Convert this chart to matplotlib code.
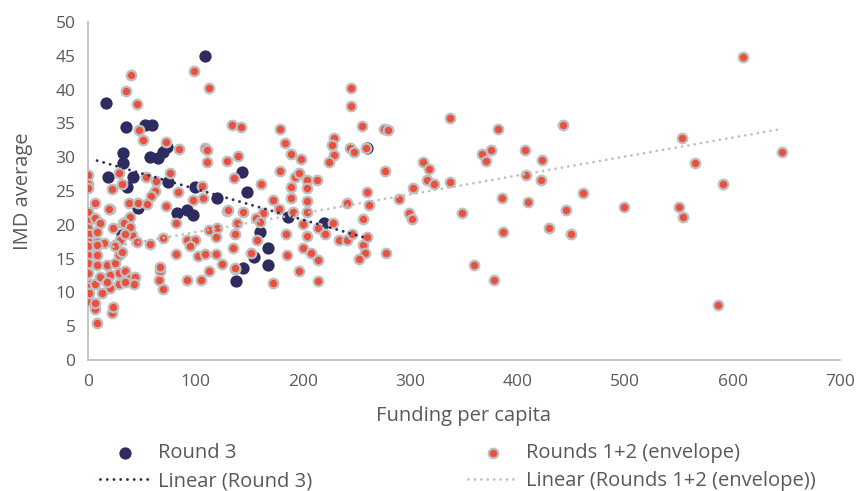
import matplotlib
matplotlib.use("Agg")
import matplotlib.pyplot as plt

# Round 3 projects: funding per capita vs IMD average
round3_x = [109, 17, 35, 53, 60, 32.6, 32.6, 18.6, 42, 58, 65, 70, 74, 74.5, 46.5, 36,
            31.6, 83, 92, 98, 99.6, 120, 143, 148, 186, 220, 160, 168, 155, 168, 144,
            138, 260]
round3_y = [45, 38, 34.5, 34.7, 34.7, 30.6, 29.2, 27.1, 27.1, 30, 29.9, 30.8, 31.5, 26.3,
            22.5, 25.6, 18.5, 21.7, 22.2, 21.4, 25.6, 24, 27.8, 24.9, 21.2, 20.3, 19,
            16.6, 15.2, 14, 13.6, 11.7, 31.3]

# Rounds 1+2 (envelope)
env_x = [39.7, 35, 45.3, 98.7, 112.6, 47.8, 50.9, 72.6, 85, 133.7, 142.7, 109, 110.8,
         129.7, 140, 178.7, 183, 188.7, 198.6, 178.7, 192.7, 196.7, 204, 212.8, 188.7,
         204, 161.3, 136.2, 244.5, 244.5, 255.3, 229, 227.4, 243.9, 247.6, 258.8, 229,
         224.6, 260,
         0.3, 0.3, 0.3, 0, 0, 0, 0.6, 0.6, 0, 0, 0, 0, 0.6, 0.6, 0, 0, 0.6,
         29.1, 54, 63.3, 76.3, 22.6, 31.6, 62.4, 84, 106.4, 58.3, 107.3, 188.7, 204,
         38.5, 46.8, 54.6, 20.5, 72.6, 98, 129, 144, 172, 178, 162.6, 156.4, 160, 191,
         203.5, 214.4, 228.3, 220.6, 240.8, 255.7, 261.9, 255.7, 257.8, 252.6, 234,
         240.8, 184.3, 203.5, 200.4, 207.6, 214.4, 185.5, 196.7, 213.8, 172.5, 157,
         151.4, 137.1, 136.8, 139, 134.7, 113, 119.8, 119.2, 119.2, 124.5, 113, 102.7,
         109, 92.4, 99.6, 95, 81.6, 69.5, 57.7, 67, 66, 70, 92.4, 104.9, 82, 23.6, 32.9,
         37.5, 40.7, 29.8, 39, 8.7, 22.6, 23.6, 6.5,
         6.8, 19.3, 6.8, 11.5, 8.4, 8.4, 14.6, 33.2, 39.4, 34.9, 45.6, 25.4, 8.4, 8.4,
         8.4, 17.7, 25.4, 28.6, 31.6, 6.8, 6.8, 11.5, 20.8, 20.8, 28.6, 28.6, 34.7,
         39.4, 44, 42.5, 34.7, 17.7, 13, 25.4, 67, 130.6, 200.4, 245.5, 259.4, 136.8,
         110.4,
         609.4, 337, 275.5, 279.5, 381.6, 441.9, 552.9, 645.7, 406.8, 422.3, 366.5,
         374.8, 370.5, 276.2, 312.2, 317.4, 565, 315.2, 322.4, 337, 407.7, 421.7,
         302.2, 289.5, 591.4, 460.4, 385.4, 409.8, 445, 498.6, 550.4, 553.9, 347.8,
         298.8, 301.9, 386.3, 429.4, 449.6, 277.4, 359, 377.6, 586.1]
env_y = [42.2, 39.8, 37.8, 42.8, 40.3, 34, 32.5, 32.3, 31.2, 34.7, 34.4, 31.3, 29.3,
         29.5, 30.2, 34.2, 32.1, 30.5, 29.7, 28, 27.1, 27.6, 26.6, 26.6, 25.6, 25.5,
         26.1, 26.9, 40.2, 37.6, 34.6, 32.9, 31.8, 31.3, 30.7, 31.3, 30.3, 29.3, 24.8,
         27.3, 26, 25.4, 21.9, 20.6, 19.6, 18.7, 17.4, 16.8, 15.6, 14.3, 12.8, 11.3,
         10.8, 9.6, 8.7, 9.9,
         27.7, 27.1, 26.5, 27.7, 25.3, 26.1, 25, 24.9, 25.8, 24.3, 23.9, 23.9, 23.5,
         23.2, 23.2, 23.1, 22.4, 22.8, 23.7, 22, 21.9, 23.6, 22.4, 21.7, 21, 20.4, 21.9,
         21.9, 19.5, 20.3, 18.7, 23.2, 20.8, 22.9, 17, 15.8, 15, 17.8, 17.8, 18.7, 18.3,
         16.5, 15.8, 14.8, 15.5, 13.2, 11.7, 11.4, 17.8, 15.9, 13.4, 18.7, 20.2, 16.5,
         19.3, 19.5, 18.2, 15.7, 14.2, 13.1, 15.4, 15.7, 17.8, 17.8, 16.9, 15.7, 18.1,
         17.1, 13.2, 11.8, 10.5, 11.8, 11.9, 20.3, 19.5, 20.2, 20.7, 18.5, 17.8, 21.2,
         5.4, 6.9, 7.9, 7.6,
         23.2, 22.4, 21, 20.2, 19, 17.4, 17.3, 20.2, 19.7, 18.7, 17.5, 17, 17, 15.5, 14,
         14, 14.3, 15.5, 16, 11.3, 8.4, 12.3, 12.6, 10.6, 12.8, 11.3, 13.1, 12.1, 12.3,
         11.3, 11.5, 11.6, 9.9, 16.8, 13.7, 22.2, 20.1, 18.7, 18.2, 13.6, 31,
         44.8, 35.8, 34.1, 34, 34.2, 34.8, 32.9, 30.8, 31.1, 29.6, 30.5, 31.1, 29.5,
         27.9, 29.3, 28.3, 29.2, 26.6, 26.1, 26.4, 27.4, 26.6, 25.5, 23.8, 26, 24.7,
         23.9, 23.3, 22.2, 22.7, 22.7, 21.2, 21.8, 21.8, 20.8, 18.9, 19.5, 18.6, 15.8,
         14, 11.8, 8.1]

# linear trendline end points (start / end of each fitted line)
round3_trend_x = [8.5, 260]
round3_trend_y = [29.5, 18.0]
env_trend_x = [0, 643]
env_trend_y = [16.1, 34.1]

x_ticks = [0, 100, 200, 300, 400, 500, 600, 700]
y_ticks = [0, 5, 10, 15, 20, 25, 30, 35, 40, 45, 50]

navy = "#2E2B5E"
orange = "#E9503F"
ring = "#BFBFBF"
txt = "#595959"

plt.rcParams["font.family"] = ["Open Sans", "DejaVu Sans"]

fig = plt.figure(figsize=(8.6, 4.91), dpi=100)
ax = fig.add_axes([0.1023, 0.2668, 0.8744, 0.6884])

h1 = ax.scatter(round3_x, round3_y, s=78, color=navy, linewidths=0, zorder=2)
h2 = ax.scatter(env_x, env_y, s=48, color=orange, edgecolors=ring, linewidths=1.6, zorder=3)

dots = (0, (0.01, 2.3))
h3, = ax.plot(round3_trend_x, round3_trend_y, color=navy, lw=2.1, linestyle=dots,
              dash_capstyle="round", zorder=4)
h4, = ax.plot(env_trend_x, env_trend_y, color=ring, lw=2.0, linestyle=dots,
              dash_capstyle="round", zorder=4)

ax.set_xlim(0, 700)
ax.set_ylim(0, 50)
ax.set_xticks(x_ticks)
ax.set_yticks(y_ticks)
ax.tick_params(length=0, labelsize=12.5, labelcolor=txt)
ax.tick_params(axis="x", pad=10)
ax.tick_params(axis="y", pad=9)
for s in ["top", "right"]:
    ax.spines[s].set_visible(False)
for s in ["left", "bottom"]:
    ax.spines[s].set_color(ring)
    ax.spines[s].set_linewidth(1.3)

ax.set_xlabel("Funding per capita", fontsize=14.5, color=txt, va="center")
ax.xaxis.set_label_coords(0.5, -0.165)
ax.set_ylabel("IMD average", fontsize=14.5, color=txt, va="center")
ax.yaxis.set_label_coords(-0.087, 0.5)

# columns fill top-to-bottom, so this order gives markers on row 1, trendlines on row 2
fig.legend([h1, h3, h2, h4],
           ["Round 3", "Linear (Round 3)", "Rounds 1+2 (envelope)",
            "Linear (Rounds 1+2 (envelope))"],
           loc="upper left", bbox_to_anchor=(100 / 860, 0.097), ncol=2,
           frameon=False, fontsize=14.5, labelcolor=txt, handlelength=2.5,
           columnspacing=7.7, handletextpad=0.4, labelspacing=0.4,
           borderaxespad=0, borderpad=0, scatterpoints=1)

fig.savefig("out.png", dpi=100)
